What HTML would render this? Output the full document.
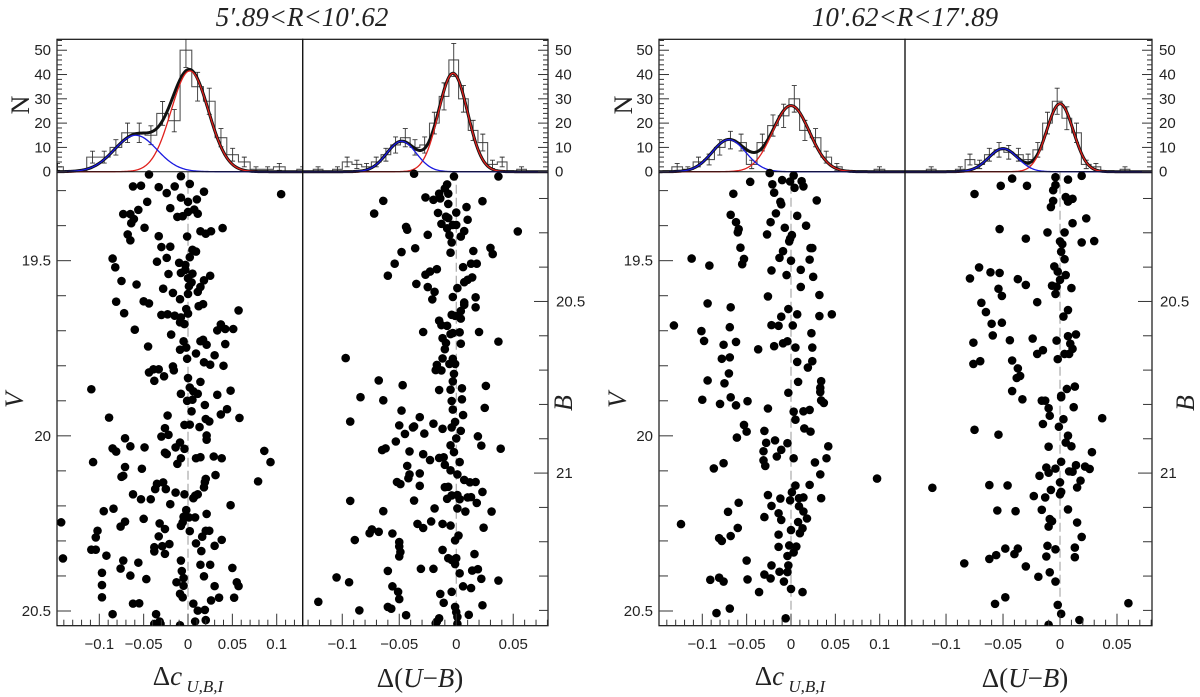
<!DOCTYPE html>
<html><head><meta charset="utf-8"><title>Colour spread histograms and scatter plots</title>
<style>
html,body{margin:0;padding:0;background:#fff;}
svg{display:block;}
text{font-family:"Liberation Sans",sans-serif;fill:#222;}
.serif{font-family:"Liberation Serif",serif;}
</style></head>
<body>
<svg id="fig" width="1200" height="697" viewBox="0 0 1200 697" xmlns="http://www.w3.org/2000/svg"></svg>
<script>
// ---------- DATA ----------
const histCountsP1 = [2,0,0,6,6,10,16,16,15,24,21,50,35,29,14,7,4,1,1,2,0,1];
const histStartP1 = -0.1471, histWidthP1 = 0.01316;
const histCountsP2 = [1,0,1,4,3,2,4,7,11,14,10,11,20,31,46,30,17,12,3,4,0,1];
const histStartP2 = -0.1212, histWidthP2 = 0.0085;
const histCountsP3 = [2,1,4,5,10,13,12,3,12,19,23,30,17,14,6,2,0,0,0,1];
const histStartP3 = -0.1283, histWidthP3 = 0.012;
const histCountsP4 = [1,0,0,1,5,3,7,9,8,7,5,9,20,29,22,16,3,2,0,0,1];
const histStartP4 = -0.113, histWidthP4 = 0.0085;
// gaussian fits: [amplitude, mean, sigma]
const fitBlueP1 = [15, -0.059, 0.024], fitRedP1 = [41.5, 0.002, 0.021];
const fitBlueP2 = [12.5, -0.048, 0.013], fitRedP2 = [40.5, -0.0028, 0.0127];
const fitBlueP3 = [13.2, -0.070, 0.019], fitRedP3 = [27.2, 0.000, 0.0207];
const fitBlueP4 = [9.5, -0.050, 0.0127], fitRedP4 = [28, 0.000, 0.0116];

const p1dc = [-0.044,-0.008,-0.062,-0.053,-0.033,-0.015,0.002,0.018,-0.024,0.105,
-0.008,0.010,-0.046,0.000,-0.020,-0.056,-0.073,-0.065,-0.061,-0.064,
-0.012,-0.006,0.000,0.007,0.011,-0.049,-0.068,-0.065,-0.033,-0.001,
0.014,0.020,0.026,0.039,-0.030,-0.020,0.005,0.009,0.002,-0.085,
-0.082,-0.035,-0.024,-0.010,-0.003,-0.003,-0.022,-0.008,0.005,0.000,
0.025,0.018,-0.075,-0.058,0.004,0.001,0.014,0.011,-0.028,-0.017,
0.000,-0.009,-0.081,-0.050,-0.044,0.012,0.017,-0.072,-0.030,-0.023,
-0.015,-0.008,0.000,-0.002,-0.009,-0.004,0.057,0.037,0.033,0.042,
0.051,-0.060,-0.019,-0.005,0.014,0.017,0.021,0.042,-0.045,-0.009,
-0.002,0.009,-0.001,0.018,0.025,0.030,0.040,-0.017,-0.016,-0.044,
-0.039,-0.033,-0.038,-0.027,0.000,0.014,-0.109,0.002,-0.008,0.006,
0.011,-0.001,0.005,0.033,0.048,0.019,0.044,0.037,0.004,-0.023,
-0.089,0.058,0.020,0.024,-0.004,0.002,0.013,-0.026,-0.030,-0.022,
0.021,0.021,-0.071,-0.065,-0.049,-0.085,-0.081,-0.009,-0.014,-0.004,
-0.026,-0.024,-0.008,-0.012,0.009,0.014,0.029,0.038,0.086,0.093,
-0.107,-0.071,-0.052,-0.075,-0.073,-0.035,-0.028,-0.037,-0.025,0.020,
0.019,0.018,0.031,0.079,-0.062,-0.053,-0.042,-0.014,-0.004,0.006,
0.008,0.011,-0.020,0.048,-0.002,-0.095,-0.084,-0.005,0.001,0.008,
0.021,-0.143,-0.071,-0.076,-0.050,-0.032,-0.026,-0.008,-0.006,-0.102,
-0.104,0.002,0.016,0.020,0.024,0.038,-0.033,-0.021,-0.029,-0.038,
-0.038,-0.026,0.009,0.030,-0.109,-0.104,0.015,-0.141,-0.092,-0.073,
-0.008,-0.076,-0.056,0.014,0.025,0.050,-0.007,-0.097,-0.065,-0.047,
0.018,-0.005,-0.013,-0.005,0.055,0.057,-0.097,0.030,-0.009,-0.006,
-0.097,0.026,0.035,0.052,-0.062,-0.055,0.006,0.011,0.019,-0.085,
-0.036,0.008,0.020,-0.038,-0.031,-0.032,-0.009];
const p1V = [19.254,19.259,19.288,19.286,19.290,19.288,19.281,19.303,19.307,19.310,
19.320,19.325,19.332,19.332,19.350,19.355,19.367,19.367,19.381,19.393,
19.375,19.373,19.361,19.354,19.366,19.406,19.425,19.442,19.430,19.431,
19.416,19.423,19.416,19.407,19.461,19.460,19.469,19.474,19.490,19.494,
19.519,19.503,19.492,19.506,19.512,19.526,19.538,19.535,19.537,19.550,
19.543,19.556,19.558,19.568,19.562,19.573,19.575,19.589,19.580,19.592,
19.595,19.610,19.617,19.616,19.622,19.630,19.624,19.650,19.655,19.653,
19.657,19.662,19.651,19.638,19.676,19.681,19.642,19.682,19.699,19.695,
19.695,19.697,19.711,19.730,19.730,19.726,19.740,19.738,19.745,19.754,
19.748,19.765,19.780,19.790,19.797,19.770,19.800,19.802,19.813,19.819,
19.810,19.810,19.843,19.830,19.835,19.846,19.867,19.862,19.880,19.873,
19.880,19.900,19.897,19.883,19.871,19.912,19.924,19.939,19.930,19.942,
19.948,19.949,19.952,19.959,19.969,19.968,19.975,19.978,20.002,19.997,
19.999,20.011,20.007,20.030,20.033,20.036,20.045,20.019,20.033,20.037,
20.048,20.052,20.064,20.080,20.064,20.061,20.059,20.064,20.043,20.075,
20.075,20.089,20.094,20.117,20.114,20.137,20.133,20.152,20.152,20.123,
20.132,20.147,20.112,20.130,20.167,20.181,20.181,20.162,20.167,20.178,
20.171,20.167,20.195,20.198,20.212,20.215,20.208,20.231,20.233,20.233,
20.223,20.247,20.245,20.259,20.237,20.250,20.266,20.257,20.247,20.271,
20.290,20.272,20.288,20.271,20.271,20.297,20.287,20.309,20.315,20.318,
20.330,20.337,20.307,20.314,20.325,20.325,20.329,20.350,20.342,20.356,
20.356,20.379,20.362,20.368,20.368,20.377,20.386,20.391,20.399,20.409,
20.401,20.406,20.418,20.428,20.418,20.429,20.426,20.429,20.451,20.461,
20.461,20.470,20.462,20.462,20.479,20.478,20.479,20.499,20.497,20.509,
20.509,20.530,20.526,20.537,20.537,20.530,20.541];

const p2dUB = [-0.037,-0.002,0.037,-0.008,-0.010,-0.015,-0.007,-0.027,-0.020,-0.014,
-0.064,0.023,-0.007,0.009,-0.072,-0.016,0.000,-0.009,-0.007,0.010,
-0.013,-0.008,-0.003,0.000,-0.044,-0.043,0.007,0.054,-0.025,-0.006,
0.004,-0.004,-0.036,-0.048,-0.005,0.015,0.030,0.032,-0.054,0.006,
0.013,0.018,-0.017,-0.023,-0.027,-0.060,0.014,0.010,0.007,-0.035,
-0.025,-0.019,0.001,-0.003,0.017,-0.021,0.007,0.007,0.017,0.004,
-0.004,-0.001,0.004,-0.015,-0.013,-0.008,-0.029,0.020,0.003,-0.005,
-0.003,-0.012,0.037,-0.009,0.004,-0.010,-0.097,-0.012,-0.003,-0.006,
-0.001,-0.017,-0.018,-0.013,-0.002,-0.068,-0.047,-0.003,0.026,-0.015,
-0.005,0.005,-0.084,-0.064,-0.004,0.005,-0.048,-0.003,0.025,0.006,
-0.032,-0.093,-0.001,-0.020,-0.050,-0.038,-0.037,-0.012,-0.004,0.004,
-0.045,-0.028,0.000,0.019,-0.053,-0.005,0.022,0.039,-0.062,-0.065,
-0.041,-0.002,-0.029,-0.023,-0.015,-0.011,0.003,-0.010,-0.043,-0.005,
-0.032,-0.041,-0.042,0.001,0.007,0.012,0.017,-0.052,-0.049,-0.032,
-0.010,-0.007,0.023,-0.004,-0.008,0.001,0.003,0.010,0.013,-0.093,
-0.037,0.018,-0.019,0.001,0.008,0.031,-0.064,-0.034,-0.029,-0.022,
-0.012,-0.005,0.024,-0.074,-0.076,-0.068,-0.056,0.002,-0.001,-0.089,
-0.050,-0.050,-0.049,-0.050,-0.012,0.016,-0.007,-0.004,0.000,-0.001,
-0.031,-0.020,-0.060,0.014,0.019,0.003,-0.105,0.022,0.037,-0.094,
-0.056,0.006,0.013,-0.051,-0.014,-0.004,-0.050,-0.121,-0.011,-0.060,
-0.057,-0.001,0.023,-0.085,0.000,-0.044,0.011,0.001,-0.015,-0.017,
-0.018,0.001];
const p2B = [20.128,20.136,20.136,20.159,20.171,20.186,20.186,20.197,20.204,20.200,
20.207,20.208,20.216,20.225,20.244,20.242,20.241,20.253,20.257,20.262,
20.274,20.287,20.277,20.277,20.283,20.291,20.295,20.296,20.306,20.307,
20.311,20.328,20.345,20.356,20.358,20.353,20.344,20.362,20.390,20.400,
20.390,20.390,20.406,20.413,20.422,20.425,20.430,20.437,20.444,20.449,
20.458,20.472,20.461,20.487,20.488,20.494,20.503,20.510,20.517,20.528,
20.539,20.542,20.550,20.556,20.569,20.571,20.589,20.589,20.590,20.595,
20.592,20.607,20.617,20.621,20.623,20.639,20.665,20.666,20.667,20.682,
20.682,20.685,20.700,20.701,20.711,20.730,20.744,20.733,20.746,20.758,
20.757,20.753,20.779,20.788,20.790,20.785,20.818,20.815,20.810,20.831,
20.837,20.850,20.851,20.856,20.861,20.867,20.864,20.871,20.867,20.877,
20.886,20.885,20.899,20.893,20.908,20.919,20.920,20.929,20.928,20.933,
20.937,20.939,20.945,20.962,20.956,20.954,20.968,20.976,20.979,20.992,
21.001,21.004,21.015,21.004,21.020,21.027,21.026,21.026,21.032,21.037,
21.041,21.040,21.055,21.065,21.075,21.064,21.076,21.071,21.070,21.081,
21.080,21.087,21.103,21.103,21.112,21.112,21.111,21.148,21.160,21.141,
21.148,21.153,21.159,21.164,21.175,21.171,21.176,21.182,21.196,21.195,
21.201,21.214,21.230,21.243,21.224,21.236,21.248,21.253,21.248,21.265,
21.279,21.279,21.285,21.284,21.280,21.292,21.304,21.308,21.313,21.318,
21.330,21.330,21.335,21.346,21.352,21.346,21.367,21.375,21.378,21.390,
21.395,21.390,21.385,21.400,21.405,21.414,21.413,21.419,21.423,21.433,
21.438,21.439];

const p3dc = [-0.024,0.003,-0.046,-0.021,-0.010,-0.001,0.012,0.004,0.014,-0.065,
-0.019,-0.012,-0.011,0.029,-0.068,-0.017,0.007,-0.062,-0.023,-0.007,
0.017,-0.059,-0.060,-0.027,0.001,-0.001,-0.002,-0.057,-0.009,0.022,
0.024,-0.112,-0.053,-0.055,-0.013,0.000,0.021,-0.092,-0.022,-0.005,
0.011,0.025,0.011,-0.026,0.032,-0.094,-0.068,-0.003,-0.011,0.007,
0.032,0.046,-0.132,-0.069,-0.022,-0.014,0.002,-0.101,0.023,-0.098,
-0.062,-0.076,-0.009,-0.004,-0.019,-0.037,0.005,0.024,-0.078,-0.069,
0.007,0.024,0.019,-0.070,-0.094,-0.075,0.008,0.034,0.033,0.033,
-0.003,-0.100,-0.068,-0.080,-0.049,-0.062,0.034,0.037,-0.026,0.003,
0.014,0.021,0.005,-0.053,-0.050,-0.061,-0.030,0.015,0.022,-0.028,
-0.018,-0.004,0.042,-0.011,-0.031,-0.016,0.003,0.040,-0.031,-0.076,
-0.087,-0.029,0.027,0.033,0.097,0.005,0.021,0.001,-0.026,-0.012,
-0.001,0.009,0.014,0.034,-0.059,-0.022,0.009,-0.071,0.014,-0.014,
0.018,-0.030,-0.011,0.008,-0.124,-0.060,0.013,0.000,0.010,-0.014,
-0.081,-0.078,-0.068,-0.002,0.006,-0.014,0.003,-0.004,-0.050,-0.003,
-0.022,-0.004,-0.013,-0.030,-0.023,-0.008,-0.091,-0.081,-0.076,-0.049,
0.000,-0.036,0.013,-0.069,-0.084,-0.006];
const p3V = [19.250,19.257,19.275,19.282,19.270,19.274,19.273,19.292,19.288,19.309,
19.306,19.332,19.339,19.328,19.369,19.365,19.372,19.390,19.390,19.406,
19.400,19.410,19.419,19.425,19.427,19.437,19.445,19.463,19.473,19.464,
19.464,19.494,19.495,19.510,19.492,19.500,19.497,19.514,19.528,19.541,
19.526,19.546,19.575,19.602,19.598,19.622,19.633,19.638,19.660,19.653,
19.658,19.653,19.685,19.690,19.684,19.686,19.685,19.701,19.707,19.729,
19.732,19.740,19.736,19.730,19.744,19.753,19.748,19.748,19.780,19.776,
19.789,19.787,19.805,19.822,19.842,19.850,19.846,19.844,19.863,19.875,
19.877,19.897,19.890,19.909,19.901,19.913,19.899,19.906,19.922,19.931,
19.930,19.926,19.954,19.969,19.988,20.005,19.986,19.979,19.988,20.020,
20.013,20.021,20.030,20.040,20.044,20.059,20.064,20.064,20.070,20.078,
20.093,20.086,20.076,20.110,20.122,20.142,20.140,20.161,20.169,20.179,
20.184,20.178,20.176,20.178,20.191,20.200,20.201,20.217,20.216,20.221,
20.236,20.232,20.240,20.246,20.252,20.263,20.264,20.269,20.278,20.282,
20.292,20.300,20.286,20.313,20.316,20.317,20.333,20.343,20.356,20.370,
20.370,20.389,20.388,20.396,20.407,20.416,20.411,20.405,20.416,20.410,
20.437,20.446,20.446,20.493,20.506,20.521];

const p4dUB = [-0.004,-0.042,0.007,0.019,-0.052,-0.029,-0.004,-0.006,-0.075,0.005,
0.011,-0.006,0.007,-0.008,0.023,0.011,-0.053,-0.011,0.004,-0.030,
0.000,0.002,0.019,0.030,0.001,0.004,-0.071,-0.005,-0.061,-0.053,
-0.002,0.005,-0.079,-0.037,0.000,-0.030,-0.007,-0.003,0.010,-0.054,
-0.004,-0.051,-0.069,-0.020,0.007,0.003,-0.065,-0.060,-0.051,-0.059,
0.014,0.007,-0.024,-0.044,-0.003,-0.076,0.009,0.011,-0.015,-0.020,
0.004,0.008,-0.002,-0.070,-0.076,-0.042,-0.037,-0.038,-0.035,0.006,
0.013,-0.042,-0.033,-0.016,-0.013,0.001,0.001,-0.010,0.012,-0.009,
0.003,0.037,-0.015,-0.001,-0.075,-0.054,0.007,0.005,0.010,-0.010,
0.028,0.001,0.014,-0.012,-0.004,0.022,0.026,-0.010,0.008,0.011,
-0.018,0.018,0.000,-0.112,-0.062,-0.046,-0.008,0.001,0.015,-0.023,
-0.013,0.000,-0.055,-0.039,-0.016,0.007,-0.009,-0.007,0.015,-0.010,
0.019,-0.048,-0.037,-0.011,-0.004,0.013,-0.040,-0.056,-0.062,-0.012,
0.013,-0.084,-0.030,-0.009,-0.019,-0.004,-0.048,-0.057,-0.002,0.060,
0.001,0.017,-0.010];
const p4B = [20.138,20.142,20.145,20.134,20.163,20.163,20.161,20.176,20.187,20.196,
20.201,20.207,20.209,20.225,20.258,20.272,20.289,20.299,20.299,20.317,
20.325,20.333,20.328,20.324,20.355,20.377,20.401,20.398,20.415,20.417,
20.413,20.423,20.433,20.435,20.437,20.452,20.454,20.457,20.461,20.463,
20.478,20.484,20.504,20.502,20.525,20.544,20.531,20.565,20.562,20.599,
20.596,20.601,20.608,20.613,20.614,20.620,20.623,20.638,20.642,20.653,
20.653,20.653,20.668,20.674,20.682,20.672,20.695,20.723,20.717,20.755,
20.748,20.761,20.785,20.789,20.789,20.775,20.779,20.811,20.808,20.833,
20.843,20.840,20.857,20.865,20.874,20.888,20.891,20.911,20.922,20.923,
20.939,20.967,20.977,20.984,20.987,20.981,20.988,20.999,20.995,20.996,
21.008,21.022,21.027,21.043,21.035,21.036,21.049,21.055,21.042,21.067,
21.071,21.062,21.109,21.111,21.107,21.106,21.134,21.140,21.144,21.156,
21.186,21.220,21.220,21.212,21.222,21.217,21.236,21.239,21.250,21.243,
21.245,21.263,21.272,21.289,21.302,21.316,21.362,21.381,21.384,21.379,
21.410,21.428,21.442];

const xTicksWide = [-0.1,-0.05,0,0.05,0.1];
const xTicksNarrow = [-0.1,-0.05,0,0.05];
const nTicks = [0,10,20,30,40,50];
const vTicks = [19.5,20,20.5];
const bTicks = [20.5,21];

// ---------- LAYOUT ----------
const NS = "http://www.w3.org/2000/svg";
const svg = document.getElementById('fig');
function el(tag, attrs, parent){
  const e = document.createElementNS(NS, tag);
  for (const k in attrs) e.setAttribute(k, attrs[k]);
  (parent||svg).appendChild(e);
  return e;
}
const HT = 39.3, HB = 171.7, ST = 171.7, SB = 625.7, NMAX = 54.5;
const panels = [
  {name:'p1', x0:57, x1:302.7, xmin:-0.1477, xmax:0.1293, ymin:19.246, ymax:20.542, side:'left',
   ticks:xTicksWide, yTicks:vTicks, counts:histCountsP1, hs:histStartP1, hw:histWidthP1,
   blue:fitBlueP1, red:fitRedP1, xs:p1dc, ys:p1V},
  {name:'p2', x0:302.7, x1:548, xmin:-0.1347, xmax:0.0805, ymin:20.122, ymax:21.4446, side:'right',
   ticks:xTicksNarrow, yTicks:bTicks, counts:histCountsP2, hs:histStartP2, hw:histWidthP2,
   blue:fitBlueP2, red:fitRedP2, xs:p2dUB, ys:p2B},
  {name:'p3', x0:659, x1:905, xmin:-0.1488, xmax:0.1285, ymin:19.246, ymax:20.542, side:'left',
   ticks:xTicksWide, yTicks:vTicks, counts:histCountsP3, hs:histStartP3, hw:histWidthP3,
   blue:fitBlueP3, red:fitRedP3, xs:p3dc, ys:p3V},
  {name:'p4', x0:905, x1:1152, xmin:-0.136, xmax:0.0807, ymin:20.122, ymax:21.4446, side:'right',
   ticks:xTicksNarrow, yTicks:bTicks, counts:histCountsP4, hs:histStartP4, hw:histWidthP4,
   blue:fitBlueP4, red:fitRedP4, xs:p4dUB, ys:p4B}
];
function fmt(v){ if (Math.abs(v)<1e-9) return '0'; return (v<0?'\u2212':'') + String(Math.abs(v)).replace(/^0\./,'0.'); }
function gauss(p, x){ return p[0]*Math.exp(-((x-p[1])*(x-p[1]))/(2*p[2]*p[2])); }

panels.forEach(P => {
  const g = el('g', {});
  
  
  const sx = v => P.x0 + (v - P.xmin) / (P.xmax - P.xmin) * (P.x1 - P.x0);
  const sy = v => ST + (v - P.ymin) / (P.ymax - P.ymin) * (SB - ST);
  const hy = n => HB - n / NMAX * (HB - HT);
  const clip = 'clip-' + P.name;
  const cp = el('clipPath', {id: clip}, g);
  el('rect', {x:P.x0, y:HT, width:P.x1-P.x0, height:SB-HT}, cp);

  // histogram
  const hg = el('g', {'clip-path':'url(#'+clip+')'}, g);
  
  
  let d = '';
  P.counts.forEach((c, i) => {
    const cx = P.hs + i*P.hw;
    const xa = sx(cx - P.hw/2), xb = sx(cx + P.hw/2);
    d += (i===0 ? 'M'+xa+','+HB : '') + ' L'+xa+','+hy(c)+' L'+xb+','+hy(c);
    if (i === P.counts.length-1) d += ' L'+xb+','+HB;
  });
  const hp = el('path', {d:d, fill:'none', stroke:'#555', 'stroke-width':1.1}, hg);
  
  
  P.counts.forEach((c, i) => {
    if (c <= 0) return;
    const x = sx(P.hs + i*P.hw), e = Math.sqrt(c);
    const eb = el('path', {d:'M'+x+','+hy(c-e)+' L'+x+','+hy(c+e)+' M'+(x-2.5)+','+hy(c-e)+' L'+(x+2.5)+','+hy(c-e)+' M'+(x-2.5)+','+hy(c+e)+' L'+(x+2.5)+','+hy(c+e),
      stroke:'#333', 'stroke-width':0.9, fill:'none'}, hg);
    
    
  });
  // fits
  let dt='', dr='', db='';
  for (let px = P.x0; px <= P.x1; px += 1) {
    const v = P.xmin + (px - P.x0) / (P.x1 - P.x0) * (P.xmax - P.xmin);
    const r = gauss(P.red, v), b = gauss(P.blue, v);
    const c = px === P.x0 ? 'M' : 'L';
    dt += c + px + ',' + hy(r+b) + ' ';
    dr += c + px + ',' + hy(r) + ' ';
    db += c + px + ',' + hy(b) + ' ';
  }
  const ft = el('path', {d:dt, fill:'none', stroke:'#111', 'stroke-width':3}, hg);
  
  
  const fr = el('path', {d:dr, fill:'none', stroke:'#e0201c', 'stroke-width':1.3}, hg);
  
  
  const fb = el('path', {d:db, fill:'none', stroke:'#1a1ae0', 'stroke-width':1.3}, hg);
  
  

  // scatter
  const sg = el('g', {'clip-path':'url(#'+clip+')'}, g);
  
  
  const zl = el('line', {x1:sx(0), x2:sx(0), y1:ST, y2:SB, stroke:'#999', 'stroke-width':1, 'stroke-dasharray':'9,4'}, sg);
  
  
  P.xs.forEach((v, i) => {
    const c = el('circle', {cx:sx(v), cy:sy(P.ys[i]), r:4.3, fill:'#000'}, sg);
    
    
  });

  // frames
  const fr1 = el('rect', {x:P.x0, y:HT, width:P.x1-P.x0, height:SB-HT, fill:'none', stroke:'#111', 'stroke-width':1.2}, g);
  
  
  el('line', {x1:P.x0, x2:P.x1, y1:HB, y2:HB, stroke:'#111', 'stroke-width':1}, g);

  // x ticks (bottom)
  for (let k = Math.ceil(P.xmin*100); k <= Math.floor(P.xmax*100); k++) {
    const major = k % 5 === 0;
    const x = sx(k/100);
    el('line', {x1:x, x2:x, y1:SB, y2:SB-(major?12:6), stroke:'#333', 'stroke-width':1}, g);
  }
  P.ticks.forEach(t => {
    const tx = el('text', {x:sx(t), y:649, 'font-size':15, 'text-anchor':'middle'}, g);
    tx.textContent = fmt(t);
    
    
  });

  // histogram N ticks
  const left = P.side === 'left';
  const ex = left ? P.x0 : P.x1, dir = left ? 1 : -1;
  for (let n = 0; n <= 54; n += 2) {
    const major = n % 10 === 0;
    el('line', {x1:ex, x2:ex+dir*(major?10:5), y1:hy(n), y2:hy(n), stroke:'#333', 'stroke-width':1}, g);
  }
  nTicks.forEach(n => {
    const tx = el('text', {x: left ? ex-6 : ex+7, y:hy(n)+5, 'font-size':15, 'text-anchor': left?'end':'start'}, g);
    tx.textContent = String(n);
    
    
  });
  // magnitude ticks
  for (let k = Math.ceil(P.ymin*10); k <= Math.floor(P.ymax*10); k++) {
    const major = k % 5 === 0;
    const y = sy(k/10);
    el('line', {x1:ex, x2:ex+dir*(major?14:9), y1:y, y2:y, stroke:'#333', 'stroke-width':1}, g);
  }
  P.yTicks.forEach(t => {
    const tx = el('text', {x: left ? ex-6 : ex+8, y:sy(t)+5, 'font-size':15, 'text-anchor': left?'end':'start'}, g);
    tx.textContent = String(t);
    
    
  });
});

// ---------- TEXT LABELS ----------
function label(txt, attrs, name){
  const t = el('text', attrs);
  t.innerHTML = txt;
  
  
  return t;
}
label("5\u2032.89&lt;R&lt;10\u2032.62", {x:302, y:26, 'font-size':27, 'font-style':'italic', class:'serif', 'text-anchor':'middle'}, 'title-inner-annulus');
label("10\u2032.62&lt;R&lt;17\u2032.89", {x:905, y:26, 'font-size':27, 'font-style':'italic', class:'serif', 'text-anchor':'middle'}, 'title-outer-annulus');
[[20,105],[623,105]].forEach(p => label('N', {x:p[0], y:p[1], 'font-size':26, class:'serif', 'text-anchor':'middle', transform:'rotate(-90 '+p[0]+' '+p[1]+')', dy:'0.35em'}, 'n-axis-title'));
[[14,400],[617,400]].forEach(p => label('V', {x:p[0], y:p[1], 'font-size':26, 'font-style':'italic', class:'serif', 'text-anchor':'middle', transform:'rotate(-90 '+p[0]+' '+p[1]+')', dy:'0.35em'}, 'v-axis-title'));
[[563,403],[1185,403]].forEach(p => label('B', {x:p[0], y:p[1], 'font-size':26, 'font-style':'italic', class:'serif', 'text-anchor':'middle', transform:'rotate(-90 '+p[0]+' '+p[1]+')', dy:'0.35em'}, 'b-axis-title'));
[188, 790].forEach(x => label('\u0394<tspan font-style="italic">c</tspan><tspan font-size="17" font-style="italic" dy="7"> U,B,I</tspan>', {x:x, y:685, 'font-size':27, class:'serif', 'text-anchor':'middle'}, 'delta-c-axis-title'));
[420, 1025].forEach(x => label('\u0394(<tspan font-style="italic">U</tspan>\u2212<tspan font-style="italic">B</tspan>)', {x:x, y:687, 'font-size':27, class:'serif', 'text-anchor':'middle'}, 'delta-ub-axis-title'));
</script>
</body></html>
